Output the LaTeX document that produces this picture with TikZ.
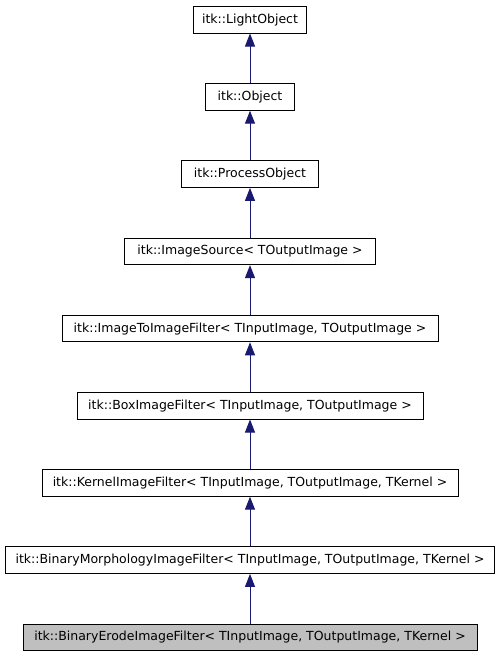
\documentclass[tikz,border=0pt]{standalone}
\usepackage{fontspec}
\setmainfont{DejaVu Sans}
\usetikzlibrary{arrows.meta}
\definecolor{edgeblue}{HTML}{191970}
\definecolor{graybox}{HTML}{BFBFBF}
\begin{document}
\begin{tikzpicture}[x=1pt,y=-1pt,
  cls/.style={draw=black,line width=1pt,fill=white,minimum height=26.5pt,inner sep=0pt,font=\fontsize{12.5}{15}\selectfont,anchor=center},
  inh/.style={draw=edgeblue,line width=1pt,-{Triangle[width=10pt,length=13pt,fill=edgeblue]}}]
\useasboundingbox (0,0) rectangle (501,659);
\node[cls,minimum width=113pt] (n0) at (250,19.75) {itk::LightObject};
\node[cls,minimum width=89pt] (n1) at (250,96.95) {itk::Object};
\node[cls,minimum width=137pt] (n2) at (250,174.15) {itk::ProcessObject};
\node[cls,minimum width=251pt] (n3) at (250,251.35) {itk::ImageSource< TOutputImage >};
\node[cls,minimum width=376pt] (n4) at (250,328.55) {itk::ImageToImageFilter< TInputImage, TOutputImage >};
\node[cls,minimum width=346pt] (n5) at (250,405.75) {itk::BoxImageFilter< TInputImage, TOutputImage >};
\node[cls,minimum width=416pt] (n6) at (250,482.95) {itk::KernelImageFilter< TInputImage, TOutputImage, TKernel >};
\node[cls,minimum width=489pt] (n7) at (250,560.15) {itk::BinaryMorphologyImageFilter< TInputImage, TOutputImage, TKernel >};
\node[cls,minimum width=454pt,fill=graybox] (n8) at (250,637.35) {itk::BinaryErodeImageFilter< TInputImage, TOutputImage, TKernel >};
\draw[inh] (n1.north) -- (n0.south);
\draw[inh] (n2.north) -- (n1.south);
\draw[inh] (n3.north) -- (n2.south);
\draw[inh] (n4.north) -- (n3.south);
\draw[inh] (n5.north) -- (n4.south);
\draw[inh] (n6.north) -- (n5.south);
\draw[inh] (n7.north) -- (n6.south);
\draw[inh] (n8.north) -- (n7.south);
\end{tikzpicture}
\end{document}
